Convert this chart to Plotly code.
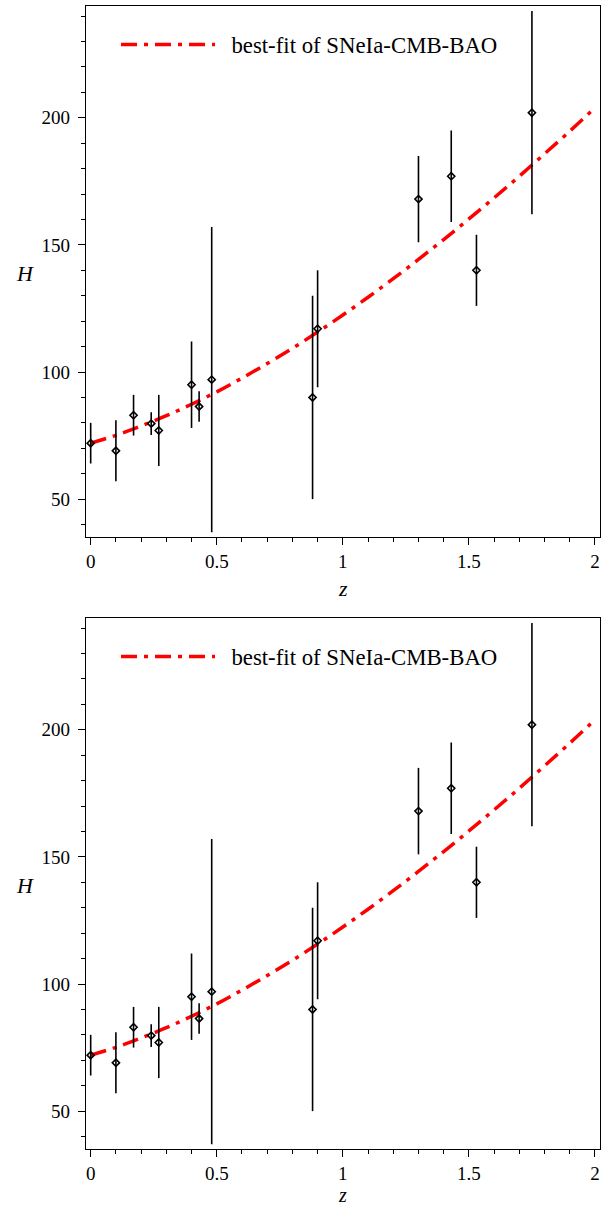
import plotly.graph_objects as go

# ---- data ----
z_obs = [0.0, 0.10, 0.17, 0.24, 0.27, 0.40, 0.43, 0.48, 0.88, 0.90, 1.30, 1.43, 1.53, 1.75]
H_obs = [72, 69, 83, 79.7, 77, 95, 86.4, 97, 90, 117, 168, 177, 140, 202]
H_err = [8, 12, 8, 4.5, 14, 17, 6, 60, 40, 23, 17, 18, 14, 40]

z_fit = [0.0, 0.1, 0.2, 0.3, 0.4, 0.5, 0.6, 0.7, 0.8, 0.9, 1.0,
         1.1, 1.2, 1.3, 1.4, 1.5, 1.6, 1.7, 1.8, 1.9, 2.0]
H_fit = [72.0, 75.1, 78.8, 82.8, 87.3, 92.2, 97.6, 103.3, 109.3, 115.7, 122.4,
         129.4, 136.7, 144.3, 152.1, 160.2, 168.5, 177.0, 185.8, 194.7, 203.9]

fit_name = "best-fit of SNeIa-CMB-BAO"
x_ticks = [0, 0.5, 1, 1.5, 2]
x_tick_text = ["0", "0.5", "1", "1.5", "2"]
y_ticks = [50, 100, 150, 200]

W, Hh = 611, 1207
FONT = "Liberation Serif"

fig = go.Figure()

panels = [
    dict(xa="x", ya="y", leg="legend", top=6.4, bot=537.0),
    dict(xa="x2", ya="y2", leg="legend2", top=618.4, bot=1149.0),
]

for i, p in enumerate(panels):
    fig.add_trace(go.Scatter(
        x=z_fit, y=H_fit, mode="lines", name="\u00a0\u00a0" + fit_name,
        line=dict(color="#ff0000", width=3.5, dash="16px,7px,4px,7px", shape="spline"),
        xaxis=p["xa"], yaxis=p["ya"], legend=p["leg"], showlegend=True,
    ))
    fig.add_trace(go.Scatter(
        x=z_obs, y=H_obs, mode="markers", name="data",
        marker=dict(symbol="diamond-open", size=5.5, color="black",
                    line=dict(color="black", width=1.6)),
        error_y=dict(type="data", array=H_err, visible=True, color="black",
                     thickness=1.6, width=0),
        xaxis=p["xa"], yaxis=p["ya"], showlegend=False,
    ))

x_dom = [86 / W, 599.5 / W]
axis_common = dict(
    showline=True, linecolor="black", linewidth=1.4, mirror=True,
    ticks="outside", ticklen=7, tickwidth=1.4, tickcolor="black",
    showgrid=False, zeroline=False,
    tickfont=dict(family=FONT, size=19, color="black"),
)

layout = dict(
    width=W, height=Hh,
    margin=dict(l=0, r=0, t=0, b=0),
    paper_bgcolor="white", plot_bgcolor="white",
    font=dict(family=FONT, color="black"),
)

for i, p in enumerate(panels):
    sfx = "" if i == 0 else str(i + 1)
    ydom = [1 - p["bot"] / Hh, 1 - p["top"] / Hh]
    layout["xaxis" + sfx] = dict(
        axis_common, domain=x_dom, range=[-0.0186, 2.018],
        tickvals=x_ticks, ticktext=x_tick_text,
        minor=dict(dtick=0.1, tick0=0, ticks="outside", ticklen=4,
                   tickwidth=1.4, tickcolor="black", showgrid=False),
        anchor="y" + sfx, ticklabelstandoff=0,
    )
    layout["yaxis" + sfx] = dict(
        axis_common, domain=ydom, range=[35.1, 243.8],
        tickvals=y_ticks,
        minor=dict(dtick=10, tick0=0, ticks="outside", ticklen=4,
                   tickwidth=1.4, tickcolor="black", showgrid=False),
        anchor="x" + sfx, ticklabelstandoff=4,
    )
    leg_y = 1 - (p["top"] + 38.3) / Hh
    layout["legend" if i == 0 else "legend2"] = dict(
        x=116 / W, y=leg_y, xanchor="left", yanchor="middle",
        bgcolor="rgba(0,0,0,0)", borderwidth=0,
        font=dict(family=FONT, size=22.8, color="black"),
        itemwidth=94,
    )

fig.update_layout(**layout)

annots = []
for i, p in enumerate(panels):
    off = 0 if i == 0 else 612
    annots.append(dict(
        text="<i>H</i>", x=25 / W, y=1 - (273.3 + off) / Hh,
        xref="paper", yref="paper", xanchor="center", yanchor="middle",
        showarrow=False, font=dict(family=FONT, size=22, color="black"),
    ))
    if i == 0:
        annots.append(dict(
            text="<i>z</i>", x=342.7 / W, y=1 - 588.3 / Hh,
            xref="paper", yref="paper", xanchor="center", yanchor="middle",
            showarrow=False, font=dict(family=FONT, size=22, color="black"),
        ))
    else:
        annots.append(dict(
            text="<i>z</i>", x=342.7 / W, y=0.5 / Hh,
            xref="paper", yref="paper", xanchor="center", yanchor="bottom",
            borderpad=0,
            showarrow=False, font=dict(family=FONT, size=20, color="black"),
        ))
fig.update_layout(annotations=annots)

fig.write_html(
    "out.html",
    config={"displayModeBar": False},
    post_script="document.body.style.margin='0';document.body.style.overflow='hidden';",
)
